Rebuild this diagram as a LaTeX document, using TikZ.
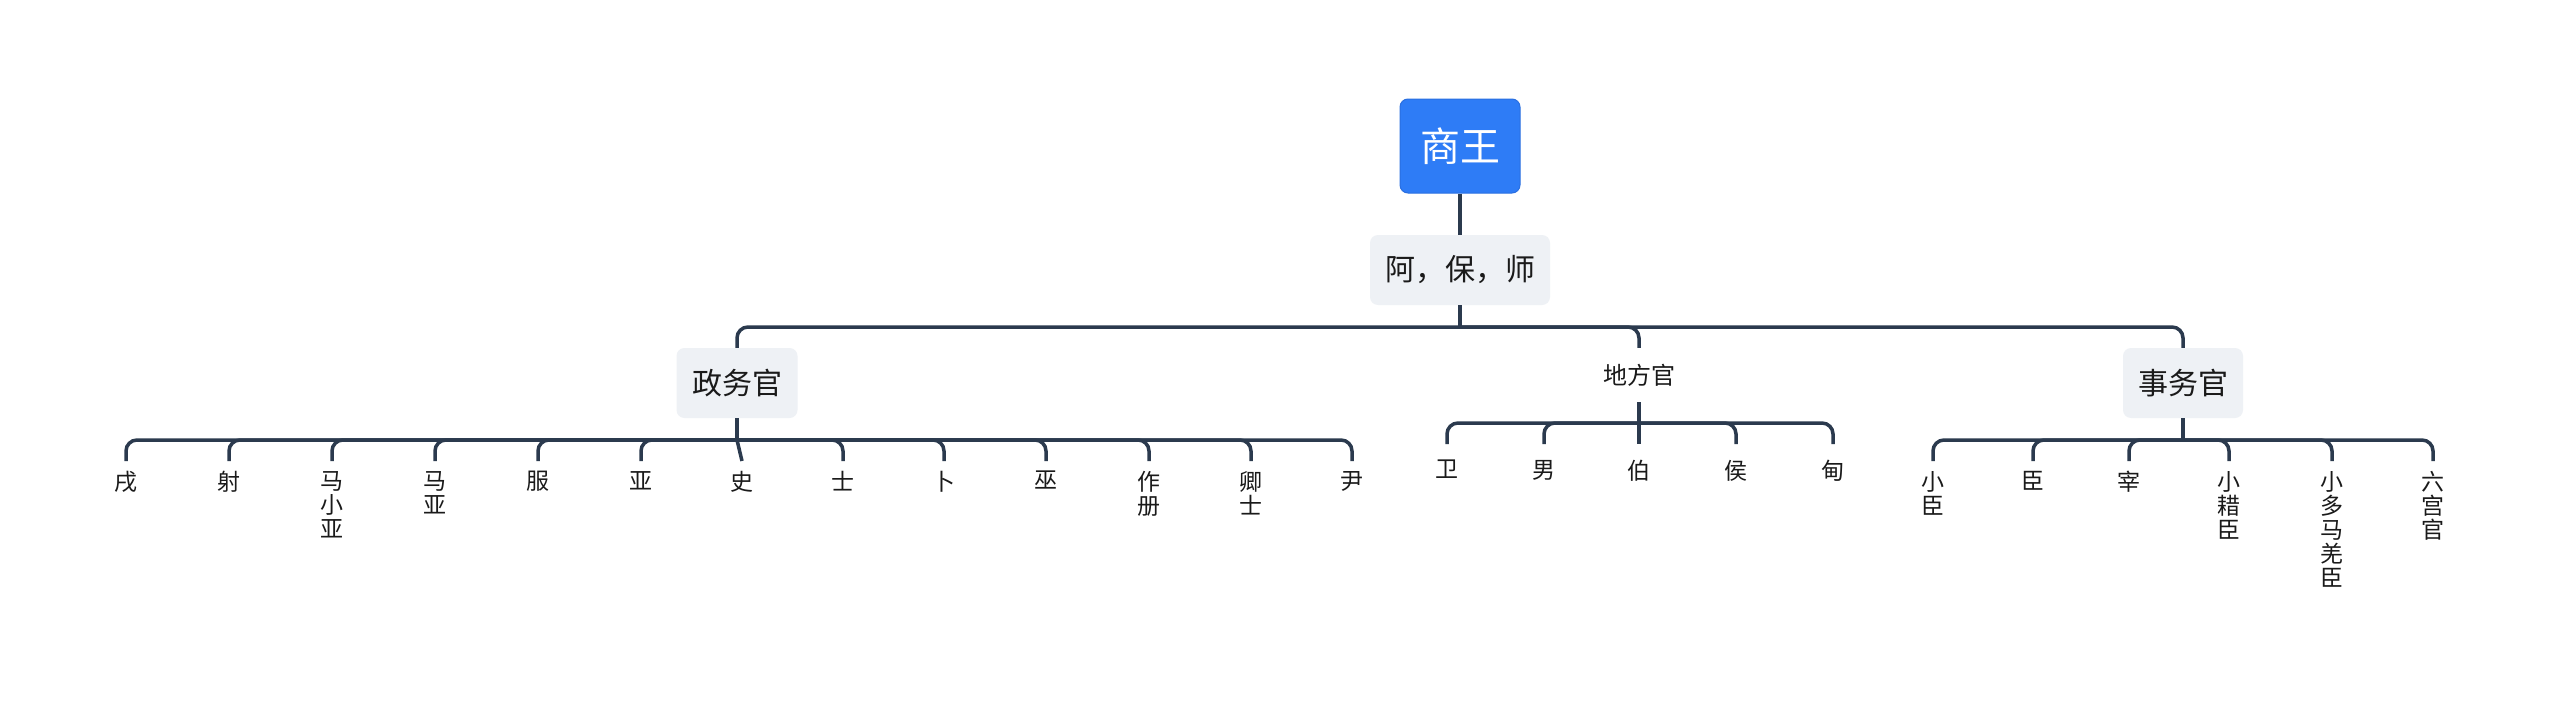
\documentclass[tikz,border=0pt]{standalone}
\usepackage{fontspec}
\newfontfamily\cjk{Noto Sans CJK SC}
\definecolor{lineC}{HTML}{2B3A4E}
\definecolor{rootC}{HTML}{2E7CF6}
\definecolor{rootD}{HTML}{2A6FE0}
\definecolor{boxC}{HTML}{EEF1F5}
\definecolor{txtC}{HTML}{1A1A1A}
\begin{document}
\begin{tikzpicture}[x=1pt,y=-1pt,
  rootbox/.style={rectangle, rounded corners=8pt, fill=rootC, draw=rootD, line width=1pt, text=white,
    font=\cjk\fontsize{40}{48}\selectfont, minimum width=120pt, minimum height=94pt, inner sep=0pt},
  gbox/.style={rectangle, rounded corners=8pt, fill=boxC, text=txtC,
    font=\cjk\fontsize{30}{36}\selectfont, minimum height=70pt, inner sep=0pt},
  midtext/.style={rectangle, text=txtC, font=\cjk\fontsize{24}{28}\selectfont,
    minimum width=90pt, minimum height=54pt, inner sep=0pt},
  leaf/.style={text=txtC, font=\cjk\fontsize{23}{24}\selectfont, align=center, anchor=north,
    inner xsep=0pt, inner ysep=10pt},
  leafb/.style={leaf, inner ysep=16pt},
  conn/.style={draw=lineC, line width=3.5pt},
  branch/.style={conn, rounded corners=11pt}
]
\useasboundingbox (0,0) rectangle (2560,701);
\fill[white] (0,0) rectangle (2560,701);

% main nodes
\node[rootbox] (wang) at (1460,146) {商王};
\node[gbox, minimum width=180pt] (abs) at (1460,270) {阿，保，师};
\node[gbox, minimum width=121pt] (zw) at (737,383) {政务官};
\node[midtext] (df) at (1639,375) {地方官};
\node[gbox, minimum width=120pt] (sw) at (2183,383) {事务官};

\coordinate (absbar) at (1460,327);
\coordinate (zwbar) at (737,440);
\coordinate (dfbar) at (1639,423);
\coordinate (swbar) at (2183,440);

\draw[conn] (wang.south) -- (abs.north);
\draw[conn] (abs.south) -- (absbar);
\draw[branch] (absbar) -| (zw.north);
\draw[branch] (absbar) -| (df.north);
\draw[branch] (absbar) -| (sw.north);

% 政务官 leaves
\draw[conn] (zw.south) -- (zwbar);
\node[leaf] (z1) at (126,461) {戌};
\node[leaf] (z2) at (229,461) {射};
\node[leaf] (z3) at (332,461) {马\\小\\亚};
\node[leaf] (z4) at (435,461) {马\\亚};
\node[leaf] (z5) at (538,461) {服};
\node[leaf] (z6) at (641,461) {亚};
\node[leaf] (z7) at (742,461) {史};
\node[leaf] (z8) at (843,461) {士};
\node[leaf] (z9) at (944,461) {卜};
\node[leaf] (z10) at (1046,461) {巫};
\node[leaf] (z11) at (1149,461) {作\\册};
\node[leaf] (z12) at (1251,461) {卿\\士};
\node[leaf] (z13) at (1352,461) {尹};
\foreach \n in {z1,z2,z3,z4,z5,z6,z8,z9,z10,z11,z12,z13}
  \draw[branch] (zwbar) -| (\n.north);
\draw[conn] (zwbar) -- (z7.north);

% 地方官 leaves
\draw[conn] (df.south) -- (dfbar);
\node[leafb] (d1) at (1447,444) {卫};
\node[leafb] (d2) at (1544,444) {男};
\node[leafb] (d3) at (1639,444) {伯};
\node[leafb] (d4) at (1736,444) {侯};
\node[leafb] (d5) at (1833,444) {甸};
\foreach \n in {d1,d2,d4,d5}
  \draw[branch] (dfbar) -| (\n.north);
\draw[conn] (dfbar) -- (d3.north);

% 事务官 leaves
\draw[conn] (sw.south) -- (swbar);
\node[leaf] (s1) at (1933,461) {小\\臣};
\node[leaf] (s2) at (2033,461) {臣};
\node[leaf] (s3) at (2129,461) {宰};
\node[leaf] (s4) at (2229,461) {小\\耤\\臣};
\node[leaf] (s5) at (2332,461) {小\\多\\马\\羌\\臣};
\node[leaf] (s6) at (2433,461) {六\\宫\\官};
\foreach \n in {s1,s2,s3,s4,s5,s6}
  \draw[branch] (swbar) -| (\n.north);
\end{tikzpicture}
\end{document}
